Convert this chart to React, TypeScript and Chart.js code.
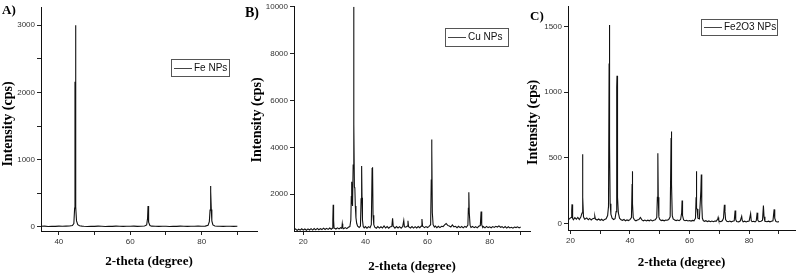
import React, { useEffect, useRef } from "react";
import { Chart, registerables } from "chart.js";

Chart.register(...registerables);

// ---------------- data ----------------
const xTitle = "2-theta (degree)";
const yTitle = "Intensity (cps)";

const feName = "Fe NPs";
const cuName = "Cu NPs";
const fe2o3Name = "Fe2O3 NPs";

// [2-theta, counts]
const fePattern: [number, number][] = [
  [35, 10], [36, 12], [37, 8], [38, 11], [39, 9], [40, 13], [41, 10], [42, 12], [43, 14],
  [43.8, 22], [44.2, 50], [44.42, 280], [44.52, 2160], [44.58, 1900], [44.65, 3000],
  [44.72, 1500], [44.8, 300], [44.95, 90], [45.3, 35], [45.8, 18], [46.5, 12], [47, 10],
  [48, 8], [49, 11], [50, 9], [51, 12], [52, 10], [53, 8], [54, 11], [55, 9], [56, 12],
  [57, 10], [58, 9], [59, 11], [60, 10], [61, 12], [62, 9], [63, 11], [64, 14], [64.6, 30],
  [64.85, 130], [64.98, 312], [65.08, 220], [65.2, 70], [65.5, 22], [66, 12], [67, 10],
  [68, 9], [69, 11], [70, 10], [71, 8], [72, 11], [73, 9], [74, 12], [75, 10], [76, 9],
  [77, 11], [78, 10], [79, 12], [80, 11], [81, 13], [81.8, 25], [82.15, 80], [82.35, 250],
  [82.45, 610], [82.52, 480], [82.6, 530], [82.7, 260], [82.85, 90], [83.15, 30], [83.7, 15],
  [84.5, 11], [85, 10], [86, 9], [87, 11], [88, 10], [89, 9], [90, 10],
];

const cuPattern: [number, number][] = [
  [17, 470], [17.5, 520], [18, 455], [18.5, 505], [19, 465], [19.5, 525], [20, 470],
  [20.5, 515], [21, 460], [21.5, 520], [22, 475], [22.5, 530], [23, 470], [23.5, 535],
  [24, 480], [24.5, 540], [25, 485], [25.5, 530], [26, 490], [26.5, 550], [27, 495],
  [27.5, 545], [28, 500], [28.5, 555], [29, 505], [29.3, 545], [29.5, 900], [29.62, 1550],
  [29.75, 900], [29.9, 560], [30.5, 515], [31, 565], [31.5, 520], [32, 570], [32.4, 540],
  [32.55, 740], [32.7, 580], [33, 525], [33.5, 575], [34, 530], [34.5, 590], [35, 620],
  [35.3, 900], [35.45, 1900], [35.58, 2530], [35.7, 1700], [35.85, 1500], [36.05, 3240],
  [36.2, 10000], [36.32, 5000], [36.45, 2300], [36.6, 2250], [36.75, 1500], [36.95, 1000],
  [37.2, 750], [37.5, 640], [38, 580], [38.4, 640], [38.6, 1800], [38.78, 3200],
  [38.9, 1850], [39.05, 900], [39.3, 620], [39.6, 560], [40, 620], [40.5, 550], [41, 615],
  [41.5, 570], [41.9, 700], [42.15, 3100], [42.3, 3150], [42.45, 1100], [42.7, 700],
  [43, 590], [43.5, 550], [44, 620], [44.5, 555], [45, 610], [45.5, 560], [46, 650],
  [46.5, 560], [47, 620], [47.5, 550], [48, 610], [48.5, 620], [48.75, 970], [48.95, 640],
  [49.5, 555], [50, 620], [50.5, 560], [51, 615], [51.5, 550], [52, 620], [52.35, 880],
  [52.55, 610], [53, 590], [53.5, 640], [53.7, 870], [53.9, 610], [54.5, 560], [55, 620],
  [55.5, 555], [56, 615], [56.5, 560], [57, 620], [57.5, 570], [58, 640], [58.2, 940],
  [58.4, 640], [59, 575], [59.5, 620], [60, 580], [60.5, 630], [61, 700], [61.2, 2600],
  [61.32, 4340], [61.42, 3900], [61.55, 1200], [61.8, 700], [62.2, 600], [62.5, 640],
  [63, 570], [63.5, 630], [64, 575], [64.5, 630], [65, 620], [65.5, 690], [66, 750],
  [66.5, 670], [67, 640], [67.5, 600], [68, 690], [68.5, 610], [69, 630], [69.5, 570],
  [70, 630], [70.5, 575], [71, 620], [71.5, 565], [72, 625], [72.5, 590], [73, 680],
  [73.15, 1400], [73.3, 2080], [73.45, 1200], [73.7, 680], [74, 580], [74.5, 625],
  [75, 575], [75.5, 615], [76, 565], [76.5, 630], [77, 660], [77.25, 1265], [77.45, 700],
  [77.8, 580], [78, 620], [78.5, 565], [79, 625], [79.5, 575], [80, 610], [80.5, 570],
  [81, 620], [81.5, 585], [82, 630], [82.5, 600], [83, 650], [83.5, 590], [84, 615],
  [84.5, 565], [85, 620], [85.5, 555], [86, 610], [86.5, 560], [87, 590], [87.5, 550],
  [88, 600], [88.5, 575], [89, 610], [89.5, 560], [90, 600],
];

const fe2o3Pattern: [number, number][] = [
  [19.5, 30], [20, 42], [20.3, 45], [20.45, 100], [20.55, 145], [20.65, 80], [20.85, 38],
  [21, 28], [21.5, 44], [22, 32], [22.5, 46], [23, 30], [23.5, 48], [23.9, 80], [24.05, 385],
  [24.13, 527], [24.22, 200], [24.4, 50], [24.8, 32], [25.5, 42], [26, 28], [26.5, 38],
  [27, 26], [27.5, 36], [28, 40], [28.2, 55], [28.4, 33], [29, 26], [29.5, 34], [30, 24],
  [30.5, 32], [31, 22], [31.5, 31], [32, 35], [32.5, 60], [32.8, 130], [33.0, 1219],
  [33.1, 1512], [33.2, 600], [33.35, 150], [33.6, 70], [34, 40], [34.5, 30], [35, 36],
  [35.35, 90], [35.55, 1040], [35.65, 1124], [35.75, 400], [35.9, 200], [36.1, 80],
  [36.5, 40], [37, 28], [37.5, 24], [38, 30], [38.5, 20], [39, 27], [39.5, 22], [40, 29],
  [40.5, 45], [40.72, 300], [40.8, 398], [40.9, 150], [41.1, 45], [41.5, 27], [42, 20],
  [42.5, 26], [43, 30], [43.5, 45], [44, 27], [44.5, 20], [45, 26], [45.5, 19], [46, 25],
  [46.5, 20], [47, 27], [47.5, 19], [48, 25], [48.5, 28], [49, 45], [49.2, 200],
  [49.32, 323], [49.4, 534], [49.5, 200], [49.7, 50], [50, 30], [50.5, 22], [51, 25],
  [51.5, 20], [52, 26], [52.5, 24], [53, 30], [53.5, 50], [53.8, 650], [53.9, 701],
  [54.0, 300], [54.2, 60], [54.5, 35], [55, 26], [55.5, 22], [56, 26], [56.5, 21], [57, 30],
  [57.35, 80], [57.5, 174], [57.65, 60], [58, 27], [58.5, 21], [59, 24], [59.5, 19],
  [60, 22], [60.5, 18], [61, 23], [61.5, 20], [62, 40], [62.2, 200], [62.3, 398],
  [62.4, 112], [62.55, 110], [62.8, 40], [63.3, 35], [63.8, 250], [63.95, 373], [64.1, 150],
  [64.3, 40], [64.6, 22], [65, 16], [65.5, 21], [66, 14], [66.5, 19], [67, 13], [67.5, 18],
  [68, 13], [68.5, 19], [69, 18], [69.5, 35], [69.6, 45], [69.8, 25], [70, 16], [70.5, 14],
  [71, 20], [71.4, 40], [71.7, 142], [71.9, 90], [72.1, 30], [72.5, 16], [73, 13],
  [73.5, 18], [74, 12], [74.5, 17], [75, 20], [75.3, 99], [75.5, 30], [75.8, 15], [76.5, 12],
  [77, 18], [77.5, 54], [77.7, 22], [78, 12], [78.5, 17], [79, 11], [79.5, 16], [80, 18],
  [80.5, 75], [80.7, 22], [81, 13], [81.5, 16], [82, 12], [82.4, 20], [82.7, 82], [82.9, 25],
  [83.3, 13], [84, 17], [84.5, 25], [84.8, 137], [85, 50], [85.3, 16], [86, 13], [86.5, 17],
  [87, 12], [87.5, 16], [88, 20], [88.4, 107], [88.6, 40], [89, 14], [89.5, 11], [90, 14],
];

// tick positions (major ticks get labels)
const feXTicks = [40, 50, 60, 70, 80, 90];
const feXLabels = [40, 60, 80];
const feYTicks = [0, 500, 1000, 1500, 2000, 2500, 3000];
const feYLabels = [0, 1000, 2000, 3000];

const cuXTicks = [20, 30, 40, 50, 60, 70, 80, 90];
const cuXLabels = [20, 40, 60, 80];
const cuYTicks = [2000, 4000, 6000, 8000, 10000];
const cuYLabels = [2000, 4000, 6000, 8000, 10000];

const fe2o3XTicks = [20, 30, 40, 50, 60, 70, 80, 90];
const fe2o3XLabels = [20, 40, 60, 80];
const fe2o3YTicks = [0, 500, 1000, 1500];
const fe2o3YLabels = [0, 500, 1000, 1500];

// ---------------- rendering ----------------
type PanelSpec = {
  tag: string;
  name: string;
  pattern: [number, number][];
  xRange: [number, number];
  yRange: [number, number];
  xTicks: number[];
  xLabels: number[];
  yTicks: number[];
  yLabels: number[];
  left: number;
  width: number;
  padTop: number;
  padRight: number;
  yAxisWidth: number;
  xAxisHeight: number;
  yTitlePad: number;
  yTitleShift: number;
  xTitlePad: number;
  legend: { x: number; y: number; w: number; h: number };
  tagPos: { x: number; y: number; size: number };
};

const H = 276;
const SANS = '"Liberation Sans", Arial, sans-serif';
const SERIF = '"Liberation Serif", "Times New Roman", serif';

function Panel(p: PanelSpec) {
  const ref = useRef<HTMLCanvasElement | null>(null);
  useEffect(() => {
    const canvas = ref.current;
    if (!canvas) return;
    const decor = {
      id: "decor" + p.tag,
      afterDraw(chart: any) {
        const ctx = chart.ctx as CanvasRenderingContext2D;
        ctx.save();
        const L = p.legend;
        ctx.strokeStyle = "#555";
        ctx.lineWidth = 1;
        ctx.strokeRect(L.x + 0.5, L.y + 0.5, L.w, L.h);
        const cy = Math.round(L.y + L.h / 2) + 0.5;
        ctx.strokeStyle = "#444";
        ctx.beginPath();
        ctx.moveTo(L.x + 3, cy);
        ctx.lineTo(L.x + 21, cy);
        ctx.stroke();
        ctx.fillStyle = "#111";
        ctx.font = `10px ${SANS}`;
        ctx.textBaseline = "middle";
        ctx.textAlign = "left";
        ctx.fillText(p.name, L.x + 23, cy);
        ctx.font = `bold ${p.tagPos.size}px ${SERIF}`;
        ctx.textBaseline = "alphabetic";
        ctx.fillStyle = "#000";
        ctx.fillText(p.tag, p.tagPos.x, p.tagPos.y);
        ctx.restore();
      },
    };
    const tickFont = { family: SANS, size: 8 };
    const chart = new Chart(canvas, {
      type: "line",
      data: {
        datasets: [
          {
            label: p.name,
            data: p.pattern.map(([x, y]) => ({ x, y })),
            borderColor: "#111",
            borderWidth: 1.1,
            pointRadius: 0,
            tension: 0,
            fill: false,
          },
        ],
      },
      options: {
        responsive: false,
        animation: false,
        events: [],
        layout: { padding: { top: p.padTop, right: p.padRight, left: 0, bottom: 0 } },
        plugins: { legend: { display: false }, tooltip: { enabled: false } },
        scales: {
          x: {
            type: "linear",
            min: p.xRange[0],
            max: p.xRange[1],
            afterBuildTicks: (s: any) => {
              s.ticks = p.xTicks.map((v) => ({ value: v }));
            },
            afterFit: (s: any) => {
              s.height = p.xAxisHeight;
            },
            ticks: {
              autoSkip: false,
              maxRotation: 0,
              padding: 2,
              color: "#333",
              font: tickFont,
              callback: (v: any) => (p.xLabels.includes(Number(v)) ? String(v) : ""),
            },
            grid: { drawOnChartArea: false, drawTicks: true, tickLength: 4, color: "#222" },
            border: { display: true, color: "#111", width: 1 },
            title: {
              display: true,
              text: xTitle,
              color: "#000",
              font: { family: SERIF, size: 13, weight: "bold" },
              padding: { top: 0, bottom: p.xTitlePad },
            },
          },
          y: {
            type: "linear",
            min: p.yRange[0],
            max: p.yRange[1],
            afterBuildTicks: (s: any) => {
              s.ticks = p.yTicks.map((v) => ({ value: v }));
            },
            afterFit: (s: any) => {
              s.width = p.yAxisWidth;
              if (!s.__shifted) {
                const orig = s.drawTitle;
                s.drawTitle = function () {
                  const c = this.ctx as CanvasRenderingContext2D;
                  c.save();
                  c.translate(0, p.yTitleShift);
                  orig.call(this);
                  c.restore();
                };
                s.__shifted = true;
              }
            },
            ticks: {
              autoSkip: false,
              padding: 2,
              color: "#333",
              font: tickFont,
              callback: (v: any) => (p.yLabels.includes(Number(v)) ? String(v) : ""),
            },
            grid: { drawOnChartArea: false, drawTicks: true, tickLength: 4, color: "#222" },
            border: { display: true, color: "#111", width: 1 },
            title: {
              display: true,
              text: yTitle,
              color: "#000",
              font: { family: SERIF, size: 14, weight: "bold" },
              padding: { top: p.yTitlePad, bottom: 0 },
            },
          },
        },
      } as any,
      plugins: [decor],
    });
    return () => chart.destroy();
  }, []);
  return (
    <canvas
      ref={ref}
      width={p.width}
      height={H}
      style={{ position: "absolute", left: p.left, top: 0, width: p.width, height: H }}
    />
  );
}

const panels: PanelSpec[] = [
  {
    tag: "A)",
    name: feName,
    pattern: fePattern,
    xRange: [35, 95.5],
    yRange: [-60, 3270],
    xTicks: feXTicks,
    xLabels: feXLabels,
    yTicks: feYTicks,
    yLabels: feYLabels,
    left: 0,
    width: 262,
    padTop: 7,
    padRight: 5,
    yAxisWidth: 41,
    xAxisHeight: 45,
    yTitlePad: 0,
    yTitleShift: 5,
    xTitlePad: 7,
    legend: { x: 171, y: 59, w: 58, h: 17 },
    tagPos: { x: 2, y: 14, size: 13 },
  },
  {
    tag: "B)",
    name: cuName,
    pattern: cuPattern,
    xRange: [17, 93],
    yRange: [430, 10000],
    xTicks: cuXTicks,
    xLabels: cuXLabels,
    yTicks: cuYTicks,
    yLabels: cuYLabels,
    left: 242,
    width: 292,
    padTop: 5,
    padRight: 4,
    yAxisWidth: 52,
    xAxisHeight: 45,
    yTitlePad: 6.6,
    yTitleShift: 1,
    xTitlePad: 2,
    legend: { x: 203, y: 28, w: 63, h: 18 },
    tagPos: { x: 3, y: 17, size: 14 },
  },
  {
    tag: "C)",
    name: fe2o3Name,
    pattern: fe2o3Pattern,
    xRange: [19.2, 95.4],
    yRange: [-50, 1650],
    xTicks: fe2o3XTicks,
    xLabels: fe2o3XLabels,
    yTicks: fe2o3YTicks,
    yLabels: fe2o3YLabels,
    left: 524,
    width: 272,
    padTop: 2,
    padRight: 1,
    yAxisWidth: 44,
    xAxisHeight: 46,
    yTitlePad: 0.6,
    yTitleShift: 4,
    xTitlePad: 6,
    legend: { x: 177, y: 19, w: 76, h: 16 },
    tagPos: { x: 6, y: 20, size: 13 },
  },
];

export default function App() {
  return (
    <div style={{ position: "fixed", left: 0, top: 0, width: 796, height: H, background: "#fff" }}>
      {panels.map((p) => (
        <Panel key={p.tag} {...p} />
      ))}
    </div>
  );
}
